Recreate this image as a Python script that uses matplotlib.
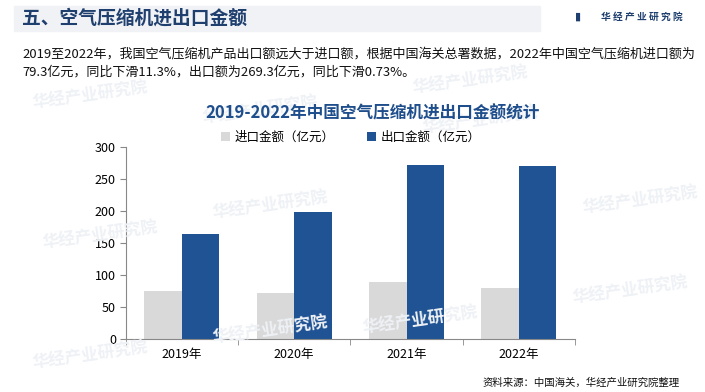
import matplotlib.pyplot as plt
import matplotlib.patches as patches
import numpy as np

plt.rcParams['font.family'] = ['Noto Sans CJK SC', 'DejaVu Sans']

# data
years = ['2019年', '2020年', '2021年', '2022年']
imports = [75.5, 72.0, 89.4, 79.3]
exports = [164.0, 198.0, 271.3, 269.3]

fig = plt.figure(figsize=(7.05, 3.92), dpi=100)
W, H = 705, 392

def fx(px):
    return px / W

def fy(py):
    return 1 - py / H

# header band
fig.patches.append(patches.Rectangle((fx(14), fy(31)), fx(526), 25 / H,
                                     transform=fig.transFigure, color='#F0F2F5', zorder=0))
fig.text(fx(22), fy(18), '五、空气压缩机进出口金额', fontsize=13.5, fontweight='bold',
         color='#1F3F6E', va='center', ha='left')
fig.text(fx(683), fy(17), '华 经 产 业 研 究 院', fontsize=7, fontweight='bold',
         color='#1F3F6E', va='center', ha='right')
fig.text(fx(578), fy(17), '▮', fontsize=8, color='#1F3F6E', va='center', ha='center')

# paragraph
fig.text(fx(22), fy(54), '2019至2022年，我国空气压缩机产品出口额远大于进口额，根据中国海关总署数据，2022年中国空气压缩机进口额为',
         fontsize=9.4, color='#111111', va='center', ha='left')
fig.text(fx(22), fy(72), '79.3亿元，同比下滑11.3%，出口额为269.3亿元，同比下滑0.73%。',
         fontsize=9.4, color='#111111', va='center', ha='left')

# faint watermarks
for (x, y) in [(90, 95), (260, 110), (470, 80), (100, 235), (270, 205),
               (480, 120), (640, 200), (90, 355), (270, 330), (420, 320), (630, 290)]:
    fig.text(fx(x), fy(y), '华经产业研究院', fontsize=12, fontweight='bold',
             color='#EEF1F5', rotation=8, ha='center', va='center', zorder=0)

# chart title
fig.text(fx(373), fy(113), '2019-2022年中国空气压缩机进出口金额统计', fontsize=12,
         fontweight='bold', color='#1F4E8C', va='center', ha='center')

ax = fig.add_axes([0.1783, 0.1344, 0.6373, 0.4913])
ax.patch.set_alpha(0)
x = np.arange(len(years))
w = 0.335
ax.bar(x - w / 2, imports, w, color='#D9D9D9', label='进口金额（亿元）', zorder=2)
ax.bar(x + w / 2, exports, w, color='#1F5394', label='出口金额（亿元）', zorder=2)

ax.set_xlim(-0.5, 3.5)
ax.set_ylim(0, 300)
ax.set_yticks(range(0, 301, 50))
ax.set_xticks(x)
ax.set_xticklabels(years)
ax.set_xticks(np.arange(-0.5, 4, 1), minor=True)
ax.tick_params(axis='x', which='major', length=0, labelsize=9, pad=6)
ax.tick_params(axis='x', which='minor', length=4, color='#888888')
ax.tick_params(axis='y', length=4, color='#888888', labelsize=9, pad=3)
for s in ['top', 'right']:
    ax.spines[s].set_visible(False)
ax.spines['left'].set_color('#888888')
ax.spines['bottom'].set_color('#888888')

fig.legend(loc='center', bbox_to_anchor=(fx(351), fy(137)), ncol=2, frameon=False,
           fontsize=9, handlelength=0.7, handleheight=0.7, columnspacing=2.6,
           handletextpad=0.4)

fig.text(fx(680), fy(383), '资料来源：中国海关，华经产业研究院整理', fontsize=7.5,
         color='#111111', ha='right', va='center')

fig.savefig('out.png', dpi=100)
